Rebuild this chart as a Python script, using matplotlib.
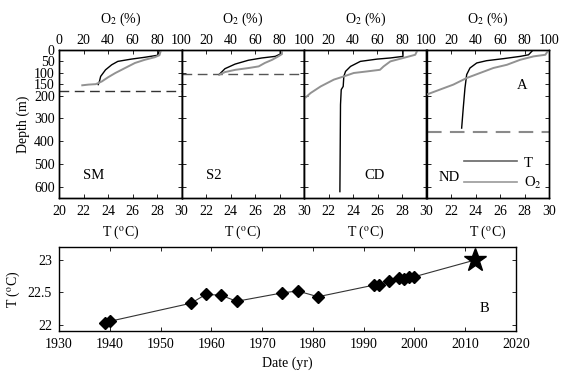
import numpy as np
import matplotlib
matplotlib.use('Agg')
import matplotlib.pyplot as plt
from matplotlib.lines import Line2D

plt.rcParams['font.family'] = ['Liberation Serif', 'DejaVu Serif']
plt.rcParams['font.size'] = 10
plt.rcParams['mathtext.fontset'] = 'stix'

# Profiles: (value, depth m)
sites = ["SM", "S2", "CD", "ND"]

sm_t = [28.2, 28.06, 27.0, 25.9, 24.8, 24.3, 23.8, 23.4, 23.3, 23.2]
sm_t_depth = [0, 23, 32, 40, 50, 65, 87, 116, 138, 152]
sm_o2 = [83.3, 82, 78, 70, 62, 54, 46, 40, 35, 30, 24, 19]
sm_o2_depth = [0, 23, 32, 43, 57, 79, 101, 120, 138, 150, 152, 155]

s2_t = [28.06, 28.06, 27.65, 26.56, 25.46, 24.37, 23.55, 23.14, 23.06]
s2_t_depth = [0, 18, 28, 35, 45, 62, 82, 104, 108]
s2_o2 = [82, 82, 79, 74, 68, 63, 55, 44, 35.5, 31]
s2_o2_depth = [0, 18, 28, 43, 57, 72, 79, 87, 97, 108]

cd_t = [28.08, 28.08, 27.05, 25.96, 24.6, 23.8, 23.39, 23.25, 23.2, 23.04, 22.98, 22.93]
cd_t_depth = [3, 28, 35, 40, 50, 72, 94, 116, 160, 174, 240, 622]
cd_o2 = [92.7, 90.8, 81, 70.5, 65, 62, 51.5, 40.6, 32.5, 24.4, 13.6, 5.4, 1.4, 0]
cd_o2_depth = [0, 21, 35, 50, 72, 87, 94, 101, 116, 130, 160, 189, 208, 211]

nd_t = [28.7, 28.33, 27.65, 26.28, 24.9, 24.1, 23.55, 23.28, 23.14, 23.0, 22.87]
nd_t_depth = [0, 21, 28, 38, 47, 57, 79, 108, 167, 255, 343]
nd_o2 = [99.7, 97, 87.4, 76.5, 65.6, 54.6, 43.7, 32.8, 21.9, 10.9, 0]
nd_o2_depth = [0, 21, 28, 43, 65, 79, 101, 123, 152, 174, 196]

# dashed reference depth per site (None = no line)
ref_depth = [180, 106, None, 358]

# Time series of T at depth
years = [1939, 1940, 1956, 1959, 1962, 1965, 1974, 1977, 1981,
         1992, 1993, 1995, 1997, 1998, 1999, 2000]
temps = [22.02, 22.05, 22.33, 22.47, 22.45, 22.36, 22.49, 22.52, 22.43,
         22.61, 22.61, 22.67, 22.72, 22.71, 22.74, 22.74]
year_2012 = 2012
temp_2012 = 23.0

t_profiles = [(sm_t, sm_t_depth), (s2_t, s2_t_depth), (cd_t, cd_t_depth), (nd_t, nd_t_depth)]
o2_profiles = [(sm_o2, sm_o2_depth), (s2_o2, s2_o2_depth), (cd_o2, cd_o2_depth), (nd_o2, nd_o2_depth)]

fig = plt.figure(figsize=(5.62, 3.84), dpi=100)

W, H = 562.0, 384.0
left, right = 59, 549
top, bottom = 50, 198
pw = (right - left) / 4.0

gray = '#929292'
dash_colors = ['#333333', '#555555', None, '#8a8a8a']
label_pos = [(0.2, 0.15), (0.2, 0.15), (0.49, 0.155), (0.1, 0.14)]

for i in range(4):
    x0 = left + i * pw
    ax = fig.add_axes([x0 / W, 1 - bottom / H, pw / W, (bottom - top) / H])
    ax.set_xlim(20, 30)
    ax.set_ylim(650, 0)
    ax.set_xticks(np.arange(20, 31, 2))
    ax.set_yticks([0, 50, 100, 150, 200, 300, 400, 500, 600])
    ax.tick_params(direction='in', length=3, right=True, width=0.6, pad=5)
    ax.tick_params(axis='y', pad=3)
    if i > 0:
        ax.set_yticklabels([])
        ax.set_xticklabels([''] + [str(v) for v in range(22, 31, 2)])
    else:
        ax.set_ylabel('Depth (m)', labelpad=3)
    ax.set_xlabel(r'T ($^{\mathrm{o}}$C)', labelpad=4)

    ax2 = ax.twiny()
    ax2.set_xlim(0, 100)
    ax2.set_xticks(np.arange(0, 101, 20))
    if i > 0:
        ax2.set_xticklabels([''] + [str(v) for v in range(20, 101, 20)])
    ax2.tick_params(direction='in', length=3, width=0.6, pad=2)
    ax2.set_xlabel(r'O$_2$ (%)', labelpad=8)

    tv, td = t_profiles[i]
    ov, od = o2_profiles[i]
    ax2.plot(ov, od, color=gray, lw=1.4)
    ax.plot(tv, td, color='black', lw=1.0, zorder=5)

    if ref_depth[i] is not None:
        lw = 1.5 if i == 3 else 1.0
        ax.axhline(ref_depth[i], color=dash_colors[i], lw=lw, dashes=(7, 4))

    ax.text(label_pos[i][0], label_pos[i][1], sites[i], transform=ax.transAxes,
            fontsize=10.5, ha='left', va='center')

    for a in (ax, ax2):
        for s in a.spines.values():
            s.set_linewidth(1.0)

    if i == 3:
        ax.text(0.74, 0.76, 'A', transform=ax.transAxes, fontsize=10.5, va='center')
        handles = [Line2D([], [], color='#666666', lw=1.2),
                   Line2D([], [], color='#999999', lw=1.2)]
        ax.legend(handles, ['T', r'O$_2$'], loc='lower right', frameon=False,
                  handlelength=3.6, handletextpad=0.5, labelspacing=0.35,
                  borderaxespad=0.1, fontsize=10.5)

# Bottom time series
bl, br, bt, bb = 59, 516, 247, 331
axb = fig.add_axes([bl / W, 1 - bb / H, (br - bl) / W, (bb - bt) / H])
axb.plot(years + [year_2012], temps + [temp_2012], color='#333333', lw=0.8)
axb.plot(years, temps, 'D', color='black', ms=6)
axb.plot([year_2012], [temp_2012], '*', color='black', ms=17)
axb.set_xlim(1930, 2020)
axb.set_ylim(21.9, 23.2)
axb.set_xticks(np.arange(1930, 2021, 10))
axb.set_yticks([22, 22.5, 23])
axb.set_yticklabels(['22', '22.5', '23'])
axb.tick_params(direction='in', length=3, top=True, right=True, width=0.6, pad=5)
axb.set_xlabel('Date (yr)', labelpad=4)
axb.set_ylabel(r'T ($^{\mathrm{o}}$C)', labelpad=4)
axb.text(0.92, 0.27, 'B', transform=axb.transAxes, fontsize=10.5, va='center')
for s in axb.spines.values():
    s.set_linewidth(1.0)

plt.savefig('out.png', dpi=100)
